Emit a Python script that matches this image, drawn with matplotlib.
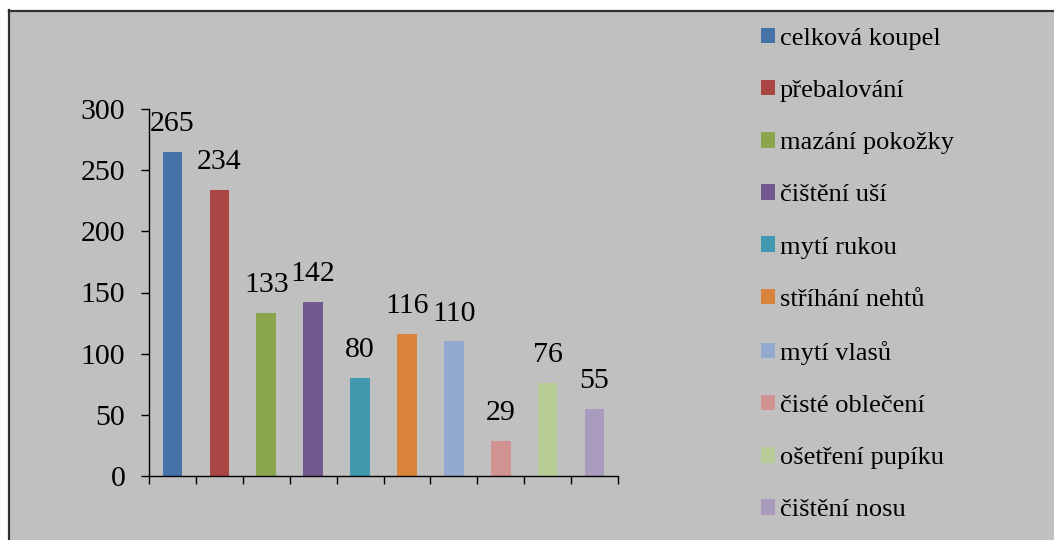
import matplotlib.pyplot as plt
from matplotlib.patches import Rectangle
import numpy as np

categories = ["celková koupel", "přebalování", "mazání pokožky", "čištění uší",
              "mytí rukou", "stříhání nehtů", "mytí vlasů", "čisté oblečení",
              "ošetření pupíku", "čištění nosu"]
values = [265, 234, 133, 142, 80, 116, 110, 29, 76, 55]
colors = ["#4572A7", "#AA4643", "#89A54E", "#71588F", "#4198AF",
          "#DB843D", "#93A9CF", "#D19392", "#B9CD96", "#A99BBD"]

plt.rcParams["font.family"] = ["Liberation Serif", "DejaVu Serif"]

fig = plt.figure(figsize=(10.54, 5.4), dpi=100)
bg = "#c0c0c0"

# grey panel with dark frame on left/top
fig.patches.append(Rectangle((8 / 1054, 0), 1 - 8 / 1054, 1 - 10 / 540,
                             transform=fig.transFigure, facecolor=bg,
                             edgecolor="none", zorder=-10))
fig.add_artist(plt.Line2D([8.5 / 1054, 8.5 / 1054], [0, 1 - 10 / 540],
                          color="#303030", lw=1.6, transform=fig.transFigure,
                          zorder=-5))
fig.add_artist(plt.Line2D([8.5 / 1054, 1], [1 - 10.5 / 540, 1 - 10.5 / 540],
                          color="#303030", lw=1.6, transform=fig.transFigure,
                          zorder=-5))

ax = fig.add_axes([149 / 1054, 64 / 540, 469 / 1054, 367 / 540])
ax.set_facecolor("none")

x = np.arange(len(values))
bars = ax.bar(x, values, width=0.42, color=colors, label=categories, zorder=2)

for xi, v in zip(x, values):
    ax.annotate(str(v), (xi, v), xytext=(0, 15), textcoords="offset points",
                ha="center", va="baseline", fontsize=21.5)

ax.set_xlim(-0.5, len(values) - 0.5)
ax.set_ylim(0, 300)
ax.set_yticks(range(0, 301, 50))
ax.set_xticks(np.arange(len(values) + 1) - 0.5)
ax.set_xticklabels([])
ax.tick_params(axis="y", direction="out", length=6, width=1, pad=11, labelsize=21.5)
ax.tick_params(axis="x", direction="out", length=6, width=1)
for side in ["top", "right"]:
    ax.spines[side].set_visible(False)
for side in ["left", "bottom"]:
    ax.spines[side].set_linewidth(1)

leg = fig.legend(handles=bars, labels=categories, loc="upper left",
                 bbox_to_anchor=(750 / 1054, 1 - 17 / 540), frameon=False,
                 fontsize=19, handlelength=0.53, handleheight=0.53,
                 handletextpad=0.2, labelspacing=1.14, borderaxespad=0)

fig.savefig("out.png", dpi=100)
